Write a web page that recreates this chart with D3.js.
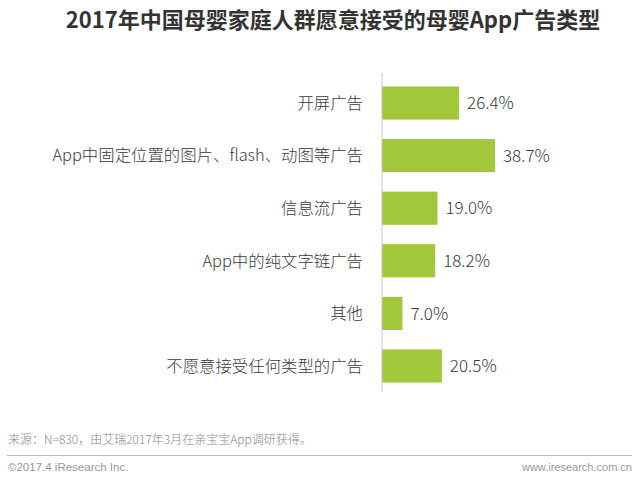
<!DOCTYPE html>
<html><head><meta charset="utf-8">
<script src="https://cdn.jsdelivr.net/npm/d3@7"></script>
<style>
html,body{margin:0;padding:0;background:#fff;}
svg{display:block;font-family:"Noto Sans CJK SC","Noto Sans",sans-serif;}
</style></head>
<body>
<svg id="c" width="640" height="478"></svg>
<script>
const title = "2017年中国母婴家庭人群愿意接受的母婴App广告类型";
const categories = ["开屏广告","App中固定位置的图片、flash、动图等广告","信息流广告","App中的纯文字链广告","其他","不愿意接受任何类型的广告"];
const values = [26.4, 38.7, 19.0, 18.2, 7.0, 20.5];
const sourceNote = "来源：N=830，由艾瑞2017年3月在亲宝宝App调研获得。";
const footerLeft = "©2017.4 iResearch Inc.";
const footerRight = "www.iresearch.com.cn";

const svg = d3.select("#c");
const x = d3.scaleLinear().domain([0, 40]).range([382, 382 + 116.8]);
const y = d3.scaleBand().domain(categories).range([76.7, 392.3]).paddingInner(0.37).paddingOuter(0.185);

svg.append("text").attr("x", 333).attr("y", 28).attr("text-anchor", "middle")
  .attr("font-size", 22).attr("font-weight", "bold").attr("fill", "#333").text(title);

svg.selectAll("rect.bar").data(values).join("rect").attr("class","bar")
  .attr("x", x(0)).attr("y", (d,i) => y(categories[i]))
  .attr("width", d => x(d) - x(0)).attr("height", y.bandwidth())
  .attr("fill", "#a2c73b");

svg.append("line").attr("x1", x(0)).attr("x2", x(0)).attr("y1", 73).attr("y2", 392)
  .attr("stroke", "#c8c8c8").attr("stroke-width", 1);

svg.selectAll("text.cat").data(categories).join("text").attr("class","cat")
  .attr("x", 363).attr("y", d => y(d) + y.bandwidth()/2).attr("dy", "0.35em")
  .attr("text-anchor", "end").attr("font-size", 16.4).attr("font-weight", 300).attr("fill", "#3a3a3a").text(d => d);

svg.selectAll("text.val").data(values).join("text").attr("class","val")
  .attr("x", d => x(d) + 8).attr("y", (d,i) => y(categories[i]) + y.bandwidth()/2).attr("dy", "0.36em")
  .attr("font-size", 17).attr("font-weight", 300).attr("fill", "#3a3a3a").text(d => d.toFixed(1) + "%");

svg.append("text").attr("x", 8).attr("y", 444).attr("font-size", 12).attr("font-weight", 300).attr("fill", "#888").text(sourceNote);
svg.append("line").attr("x1", 7).attr("x2", 632).attr("y1", 455.5).attr("y2", 455.5).attr("stroke", "#bbb").attr("stroke-width", 1);
svg.append("text").attr("x", 8).attr("y", 471).attr("font-size", 11.5).attr("fill", "#999")
  .attr("font-family", "'Liberation Sans',Arial,sans-serif").text(footerLeft);
svg.append("text").attr("x", 632).attr("y", 471).attr("text-anchor", "end").attr("font-size", 11).attr("fill", "#999")
  .attr("font-family", "'Liberation Sans',Arial,sans-serif").text(footerRight);
</script>
</body></html>
